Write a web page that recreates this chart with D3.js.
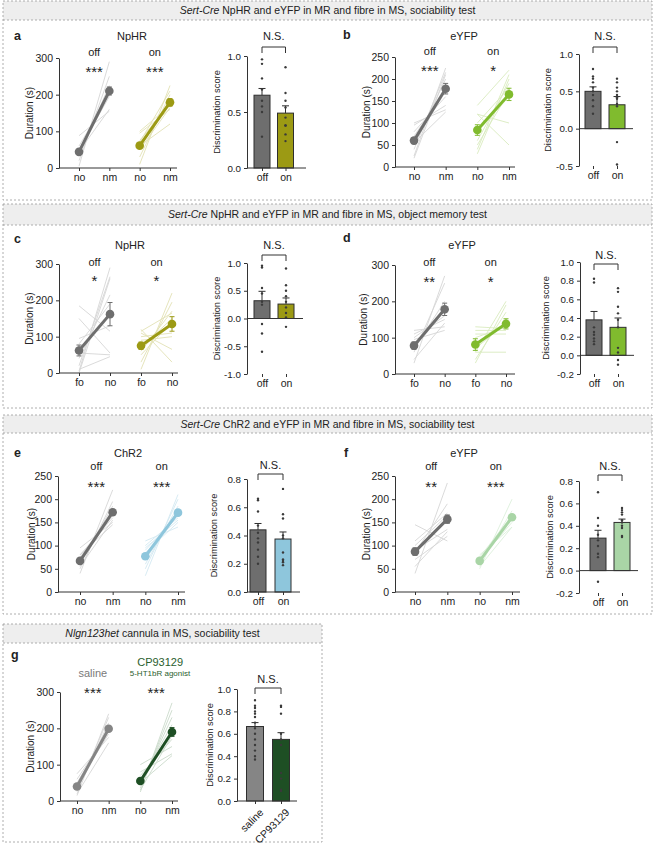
<!DOCTYPE html>
<html><head><meta charset="utf-8">
<script src="https://cdn.jsdelivr.net/npm/d3@7"></script>
<style>
body{margin:0;background:#fff;}
svg text{font-family:"Liberation Sans",Arial,sans-serif;fill:#222;}
</style></head>
<body><svg id="chart" width="657" height="846"></svg>
<script>
// ---------------- DATA ----------------
const socCats = ["no","nm","no","nm"];
const objCats = ["fo","no","fo","no"];
const barCats = ["off","on"];
const gBarCats = ["saline","CP93129"];

// panel a (NpHR, sociability)
const aOffNo = [5,20,35,42,50,60,88,45];
const aOffNm = [290,250,225,205,195,200,155,160];
const aOnNo = [10,30,55,75,95,50,100,60,70];
const aOnNm = [225,200,185,175,160,165,170,120,210];
const aOffMean = [44,210], aOffSem = [4,11];
const aOnMean = [61,179], aOnSem = [5,10];
const aDS = [0.65,0.49], aDSsem = [0.06,0.065];
const aOffPts = [0.97,0.93,0.8,0.7,0.6,0.55,0.5,0.28];
const aOnPts = [0.9,0.67,0.6,0.54,0.45,0.38,0.38,0.3,0.24];

// panel b (eYFP, sociability)
const bOffNo = [25,40,50,60,70,80,95,100,55,20];
const bOffNm = [225,215,200,180,175,160,140,130,125,210];
const bOnNo = [120,120,40,30,60,80,100,50,140];
const bOnNm = [50,100,210,200,190,160,180,170,220];
const bOffMean = [60,178], bOffSem = [7,12];
const bOnMean = [84,165], bOnSem = [12,14];
const bDS = [0.50,0.32], bDSsem = [0.06,0.11];
const bOffPts = [0.8,0.7,0.67,0.62,0.55,0.5,0.45,0.38,0.3,0.2];
const bOnPts = [0.67,0.62,0.55,0.5,0.45,0.42,0.4,0.33,0.3,-0.18,-0.48];

// panel c (NpHR, object memory)
const cOffFo = [5,20,40,80,95,185,150,55,10,0];
const cOffNo = [290,265,215,190,130,115,55,50,45,260];
const cOnFo = [10,30,50,70,90,110,120,60,100,115];
const cOnNo = [220,195,140,150,100,65,30,170,110,165];
const cOffMean = [62,162], cOffSem = [15,32];
const cOnMean = [75,135], cOnSem = [10,20];
const cDS = [0.32,0.26], cDSsem = [0.17,0.11];
const cOffPts = [0.95,0.92,0.55,0.45,0.3,0.25,-0.1,-0.27,-0.6];
const cOnPts = [0.9,0.6,0.5,0.4,0.3,0.2,0.1,0.02,-0.15];

// panel d (eYFP, object memory)
const dOffFo = [30,60,70,80,100,110,120,95,40];
const dOffNo = [270,250,200,180,160,150,130,120,140];
const dOnFo = [30,40,60,100,110,120,130,60,70];
const dOnNo = [190,170,200,130,110,120,125,60,140];
const dOffMean = [78,178], dOffSem = [10,17];
const dOnMean = [81,138], dOnSem = [16,14];
const dDS = [0.38,0.30], dDSsem = [0.09,0.10];
const dOffPts = [0.82,0.78,0.3,0.25,0.22,0.18,0.15,0.12];
const dOnPts = [0.72,0.68,0.52,0.45,0.38,0.3,0.08,0.03,-0.05,-0.1];

// panel e (ChR2, sociability)
const eOffNo = [40,50,60,70,80,95,65,75,55,80];
const eOffNm = [220,195,185,170,160,150,175,165,155,145];
const eOnNo = [35,50,60,75,90,100,85,95,70,110];
const eOnNm = [210,200,185,175,165,160,150,155,170,140];
const eOffMean = [67,172], eOffSem = [4,6];
const eOnMean = [77,171], eOnSem = [5,5];
const eDS = [0.44,0.375], eDSsem = [0.045,0.05];
const eOffPts = [0.66,0.65,0.57,0.47,0.42,0.38,0.35,0.3,0.25,0.2];
const eOnPts = [0.73,0.55,0.52,0.4,0.38,0.28,0.23,0.22,0.21,0.19];

// panel f (eYFP, sociability)
const fOffNo = [40,55,70,90,145,110,100,85];
const fOffNm = [235,130,120,135,110,170,165,190];
const fOnNo = [50,60,65,70,75,80,55];
const fOnNm = [200,175,160,150,165,140,140];
const fOffMean = [87,157], fOffSem = [8,9];
const fOnMean = [67,161], fOnSem = [3,3];
const fDS = [0.29,0.43], fDSsem = [0.07,0.03];
const fOffPts = [0.7,0.47,0.4,0.32,0.27,0.22,0.15,0.12,-0.1];
const fOnPts = [0.56,0.54,0.52,0.5,0.45,0.43,0.4,0.38,0.31,0.3];

// panel g (Nlgn123het cannula)
const gSalNo = [15,25,30,40,50,60,75,20,45,40];
const gSalNm = [240,230,215,205,195,190,175,160,185,195];
const gCpNo = [25,35,45,55,60,70,80,50,30,100];
const gCpNm = [270,250,230,210,190,170,130,125,180,150];
const gSalMean = [40,199], gSalSem = [3,5];
const gCpMean = [55,190], gCpSem = [5,12];
const gDS = [0.665,0.55], gDSsem = [0.035,0.06];
const gSalPts = [0.9,0.85,0.83,0.8,0.78,0.75,0.7,0.65,0.6,0.55,0.5,0.45,0.4,0.37];
const gCpPts = [0.85,0.84,0.78,0.6,0.55,0.5,0.25,0.2,0.1,0.09];

// ---------------- STYLE ----------------
const C = {
  grey:"#6e6e6e", greyL:"#d6d6d6",
  olive:"#9c9a14", oliveL:"#e2e1b4",
  green:"#80bb2e", greenL:"#d9ebbe",
  blue:"#8ec6dc", blueL:"#d4e9f2",
  mint:"#a9d5a6", mintL:"#dcefdb",
  dkgreen:"#1e4f24", dkgreenL:"#cbdacb",
  saline:"#858585", axis:"#333"
};
const fmtLocale = d3.formatLocale({decimal:".",thousands:",",grouping:[3],currency:["",""],minus:"-"});
const f1 = fmtLocale.format(".1f");

const svg = d3.select("#chart");

// ---------------- BOXES ----------------
function box(x0,y0,x1,y1,hb,parts){
  const g = svg.append("g");
  g.append("rect").attr("x",x0).attr("y",y0).attr("width",x1-x0).attr("height",hb-y0)
    .attr("fill","#eeeeee");
  g.append("rect").attr("x",x0).attr("y",y0).attr("width",x1-x0).attr("height",y1-y0)
    .attr("fill","none").attr("stroke","#9a9a9a").attr("stroke-width",0.8).attr("stroke-dasharray","2,2");
  g.append("line").attr("x1",x0).attr("x2",x1).attr("y1",hb).attr("y2",hb)
    .attr("stroke","#9a9a9a").attr("stroke-width",0.8).attr("stroke-dasharray","2,2");
  const t = g.append("text").attr("x",(x0+x1)/2).attr("y",(y0+hb)/2).attr("dy","0.35em")
    .attr("text-anchor","middle").style("font-size","10.5px");
  t.append("tspan").style("font-style","italic").text(parts[0]);
  t.append("tspan").text(parts[1]);
}
box(3,1,652,200,20,["Sert-Cre"," NpHR and eYFP in MR and fibre in MS, sociability test"]);
box(3,204,652,408,225,["Sert-Cre"," NpHR and eYFP in MR and fibre in MS, object memory test"]);
box(3,415,652,614,433,["Sert-Cre"," ChR2 and eYFP in MR and fibre in MS, sociability test"]);
box(3,624,322,842,643,["Nlgn123het"," cannula in MS, sociability test"]);

// ---------------- helpers ----------------
function txt(x,y,s,opt={}){
  return svg.append("text").attr("x",x).attr("y",y).attr("dy",opt.dy||"0.35em")
    .attr("text-anchor",opt.anchor||"middle")
    .style("font-size",(opt.size||11)+"px")
    .style("font-weight",opt.weight||"normal")
    .style("fill",opt.fill||"#222")
    .text(s);
}
function styleAxis(ax,size){
  ax.selectAll("path,line").attr("stroke",C.axis).attr("stroke-width",1);
  ax.selectAll("text").style("font-size",size+"px").style("fill","#222");
}

function linePanel(p){
  const g = svg.append("g");
  const y = d3.scaleLinear().domain([0,p.yMax]).range([p.yBot,p.yTop]);
  const x = d3.scalePoint().domain([0,1,2,3]).range(p.xr);
  // individual lines
  p.groups.forEach((gr,gi)=>{
    const i0 = gi*2, i1 = gi*2+1;
    gr.a.forEach((v,k)=>{
      g.append("line").attr("x1",x(i0)).attr("y1",y(v)).attr("x2",x(i1)).attr("y2",y(gr.b[k]))
        .attr("stroke",gr.light).attr("stroke-width",0.9);
    });
  });
  // means
  p.groups.forEach((gr,gi)=>{
    const i0 = gi*2, i1 = gi*2+1;
    [i0,i1].forEach((ix,k)=>{
      const m = gr.mean[k], s = gr.sem[k];
      g.append("line").attr("x1",x(ix)).attr("x2",x(ix)).attr("y1",y(m-s)).attr("y2",y(m+s))
        .attr("stroke",gr.color).attr("stroke-width",1);
      [m-s,m+s].forEach(v=>g.append("line").attr("x1",x(ix)-2.5).attr("x2",x(ix)+2.5)
        .attr("y1",y(v)).attr("y2",y(v)).attr("stroke",gr.color).attr("stroke-width",1));
    });
    g.append("line").attr("x1",x(i0)).attr("y1",y(gr.mean[0])).attr("x2",x(i1)).attr("y2",y(gr.mean[1]))
      .attr("stroke",gr.color).attr("stroke-width",3);
    [i0,i1].forEach((ix,k)=>g.append("circle").attr("cx",x(ix)).attr("cy",y(gr.mean[k])).attr("r",4.3)
      .attr("fill",gr.color));
  });
  // axes
  const ay = g.append("g").attr("transform",`translate(${p.x0},0)`)
    .call(d3.axisLeft(y).tickValues(d3.range(0,p.yMax+0.1,p.yStep)).tickSize(3).tickSizeOuter(0).tickPadding(3));
  styleAxis(ay,10.5);
  const ax = g.append("g").attr("transform",`translate(0,${p.yBot})`)
    .call(d3.axisBottom(x).tickFormat(i=>p.cats[i]).tickSize(3).tickSizeOuter(0).tickPadding(3));
  ax.select(".domain").remove();
  ax.append("line").attr("x1",p.x0).attr("x2",p.x1).attr("y1",0).attr("y2",0);
  styleAxis(ax,10.5);
  // labels
  svg.append("text").attr("transform",`translate(${p.ylabX},${(p.yTop+p.yBot)/2}) rotate(-90)`)
    .attr("text-anchor","middle").attr("dy","0.35em").style("font-size","10px").text("Duration (s)");
  txt(p.lx,p.ly,p.label,{size:12.5,weight:"bold",anchor:"start"});
  if(p.title) txt(p.title[1],p.title[2],p.title[0],{size:11});
  const mids = [(x(0)+x(1))/2,(x(2)+x(3))/2];
  p.conds.forEach((c,k)=>{ if(c) txt(mids[k]+(c.dx||0),c.y,c.t,{size:c.size||11,fill:c.fill||"#222"}); });
  p.stars.forEach((s,k)=>txt(mids[k],p.starY,s,{size:15,dy:"0.6em"}));
}

function barPanel(p){
  const g = svg.append("g");
  const y = d3.scaleLinear().domain([p.yMin,p.yMax]).range([p.yBot,p.yTop]);
  const x = d3.scalePoint().domain(p.cats).range(p.bx);
  const bw = p.bw||16;
  p.cats.forEach((c,k)=>{
    const m = p.means[k];
    g.append("rect").attr("x",x(c)-bw/2).attr("width",bw)
      .attr("y",Math.min(y(m),y(0))).attr("height",Math.abs(y(0)-y(m)))
      .attr("fill",p.colors[k]).attr("stroke","#2e2e2e").attr("stroke-width",1);
  });
  p.cats.forEach((c,k)=>{
    const m = p.means[k], s = p.sems[k];
    g.append("line").attr("x1",x(c)).attr("x2",x(c)).attr("y1",y(m)).attr("y2",y(m+s))
      .attr("stroke","#2e2e2e").attr("stroke-width",1);
    g.append("line").attr("x1",x(c)-3.5).attr("x2",x(c)+3.5).attr("y1",y(m+s)).attr("y2",y(m+s))
      .attr("stroke","#2e2e2e").attr("stroke-width",1);
  });
  p.cats.forEach((c,k)=>{
    p.pts[k].forEach(v=>g.append("circle").attr("cx",x(c)).attr("cy",y(v)).attr("r",1.2).attr("fill","#3a3a3a"));
  });
  const ay = g.append("g").attr("transform",`translate(${p.x0},0)`)
    .call(d3.axisLeft(y).tickValues(d3.range(p.yMin,p.yMax+p.yStep/2,p.yStep)).tickFormat(f1)
      .tickSize(3).tickSizeOuter(0).tickPadding(3));
  styleAxis(ay,9.8);
  g.append("line").attr("x1",p.x0).attr("x2",p.x1).attr("y1",y(0)).attr("y2",y(0))
    .attr("stroke",C.axis).attr("stroke-width",1);
  const ax = g.append("g").attr("transform",`translate(0,${p.yBot})`)
    .call(d3.axisBottom(x).tickSize(3).tickSizeOuter(0).tickPadding(3).tickFormat(p.rotate?"":null));
  ax.select(".domain").remove();
  styleAxis(ax,10.5);
  if(p.rotate){
    p.cats.forEach(c=>svg.append("text")
      .attr("transform",`translate(${x(c)+4},${p.yBot+7}) rotate(-45)`)
      .attr("text-anchor","end").attr("dy","0.7em").style("font-size","10.5px").text(c));
  }
  // N.S. bracket
  const xa = x(p.cats[0]), xb = x(p.cats[1]);
  g.append("path").attr("d",`M${xa},${p.brY+6}V${p.brY}H${xb}V${p.brY+6}`)
    .attr("fill","none").attr("stroke","#333").attr("stroke-width",1);
  txt((xa+xb)/2,p.nsY,"N.S.",{size:11});
  svg.append("text").attr("transform",`translate(${p.ylabX},${(p.yTop+p.yBot)/2}) rotate(-90)`)
    .attr("text-anchor","middle").attr("dy","0.35em").style("font-size","9.3px").text("Discrimination score");
}

// ---------------- PANELS ----------------
// a
linePanel({x0:59,x1:177,xr:[79,170],yTop:58,yBot:168,yMax:300,yStep:100,cats:socCats,
  groups:[{a:aOffNo,b:aOffNm,mean:aOffMean,sem:aOffSem,color:C.grey,light:C.greyL},
          {a:aOnNo,b:aOnNm,mean:aOnMean,sem:aOnSem,color:C.olive,light:C.oliveL}],
  label:"a",lx:14,ly:36,title:["NpHR",132,36],conds:[{t:"off",y:52},{t:"on",y:52}],
  stars:["***","***"],starY:68,ylabX:29});
barPanel({x0:247,x1:306,bx:[262,285.5],yTop:56,yBot:168,yMin:0,yMax:1,yStep:0.5,cats:barCats,
  means:aDS,sems:aDSsem,pts:[aOffPts,aOnPts],colors:[C.grey,C.olive],nsY:36,brY:47,ylabX:217});
// b
linePanel({x0:395,x1:515,xr:[414,509],yTop:57,yBot:167,yMax:250,yStep:50,cats:socCats,
  groups:[{a:bOffNo,b:bOffNm,mean:bOffMean,sem:bOffSem,color:C.grey,light:C.greyL},
          {a:bOnNo,b:bOnNm,mean:bOnMean,sem:bOnSem,color:C.green,light:C.greenL}],
  label:"b",lx:343,ly:35,title:["eYFP",464,36],conds:[{t:"off",y:51},{t:"on",y:51}],
  stars:["***","*"],starY:67,ylabX:366});
barPanel({x0:579,x1:633,bx:[593,617],yTop:54,yBot:166,yMin:-0.5,yMax:1,yStep:0.5,cats:barCats,
  means:bDS,sems:bDSsem,pts:[bOffPts,bOnPts],colors:[C.grey,C.green],nsY:36,brY:47,ylabX:548});
// c
linePanel({x0:59,x1:178,xr:[79,172],yTop:264,yBot:373,yMax:300,yStep:100,cats:objCats,
  groups:[{a:cOffFo,b:cOffNo,mean:cOffMean,sem:cOffSem,color:C.grey,light:C.greyL},
          {a:cOnFo,b:cOnNo,mean:cOnMean,sem:cOnSem,color:C.olive,light:C.oliveL}],
  label:"c",lx:14,ly:239,title:["NpHR",130,245],conds:[{t:"off",y:262},{t:"on",y:262}],
  stars:["*","*"],starY:277,ylabX:29});
barPanel({x0:247,x1:303,bx:[262,286],yTop:263,yBot:374,yMin:-1,yMax:1,yStep:0.5,cats:barCats,
  means:cDS,sems:cDSsem,pts:[cOffPts,cOnPts],colors:[C.grey,C.olive],nsY:245,brY:255,ylabX:217});
// d
linePanel({x0:395,x1:515,xr:[414,506],yTop:265,yBot:374,yMax:300,yStep:100,cats:objCats,
  groups:[{a:dOffFo,b:dOffNo,mean:dOffMean,sem:dOffSem,color:C.grey,light:C.greyL},
          {a:dOnFo,b:dOnNo,mean:dOnMean,sem:dOnSem,color:C.green,light:C.greenL}],
  label:"d",lx:343,ly:238,title:["eYFP",462,245],conds:[{t:"off",y:262},{t:"on",y:262}],
  stars:["**","*"],starY:278,ylabX:363});
barPanel({x0:580,x1:634,bx:[594,618],yTop:262,yBot:374,yMin:-0.2,yMax:1.0,yStep:0.2,cats:barCats,
  means:dDS,sems:dDSsem,pts:[dOffPts,dOnPts],colors:[C.grey,C.green],nsY:255,brY:264,ylabX:546});
// e
linePanel({x0:58,x1:185,xr:[80,178],yTop:476,yBot:592,yMax:250,yStep:50,cats:socCats,
  groups:[{a:eOffNo,b:eOffNm,mean:eOffMean,sem:eOffSem,color:C.grey,light:C.greyL},
          {a:eOnNo,b:eOnNm,mean:eOnMean,sem:eOnSem,color:C.blue,light:C.blueL}],
  label:"e",lx:14,ly:453,title:["ChR2",128,453],conds:[{t:"off",y:466},{t:"on",y:466}],
  stars:["***","***"],starY:483,ylabX:31});
barPanel({x0:247,x1:300,bx:[258,283],yTop:479,yBot:592,yMin:0,yMax:0.8,yStep:0.2,cats:barCats,
  means:eDS,sems:eDSsem,pts:[eOffPts,eOnPts],colors:[C.grey,C.blue],nsY:465,brY:474,ylabX:214});
// f
linePanel({x0:395,x1:520,xr:[415,512],yTop:476,yBot:592,yMax:250,yStep:50,cats:socCats,
  groups:[{a:fOffNo,b:fOffNm,mean:fOffMean,sem:fOffSem,color:C.grey,light:C.greyL},
          {a:fOnNo,b:fOnNm,mean:fOnMean,sem:fOnSem,color:C.mint,light:C.mintL}],
  label:"f",lx:344,ly:453,title:["eYFP",464,453],conds:[{t:"off",y:466},{t:"on",y:466}],
  stars:["**","***"],starY:483,ylabX:366});
barPanel({x0:579,x1:638,bx:[598,622],yTop:481,yBot:593,yMin:-0.2,yMax:0.8,yStep:0.2,cats:barCats,
  means:fDS,sems:fDSsem,pts:[fOffPts,fOnPts],colors:[C.grey,C.mint],nsY:466,brY:475,ylabX:550});
// g
linePanel({x0:60,x1:178,xr:[77,172],yTop:692,yBot:801,yMax:300,yStep:100,cats:socCats,
  groups:[{a:gSalNo,b:gSalNm,mean:gSalMean,sem:gSalSem,color:C.saline,light:C.greyL},
          {a:gCpNo,b:gCpNm,mean:gCpMean,sem:gCpSem,color:C.dkgreen,light:C.dkgreenL}],
  label:"g",lx:11,ly:655,title:null,
  conds:[{t:"saline",y:673,fill:"#7a7a7a"},{t:"CP93129",y:662,fill:"#2b5e2e",dx:4}],
  stars:["***","***"],starY:689,ylabX:30});
txt(160,673,"5-HT1bR agonist",{size:8,fill:"#2b5e2e"});
barPanel({x0:237,x1:297,bx:[255,281],yTop:689,yBot:801,yMin:0,yMax:1.0,yStep:0.2,cats:gBarCats,
  means:gDS,sems:gDSsem,pts:[gSalPts,gCpPts],colors:[C.saline,C.dkgreen],nsY:679,brY:688,ylabX:210,
  bw:17,rotate:true});
</script></body></html>
